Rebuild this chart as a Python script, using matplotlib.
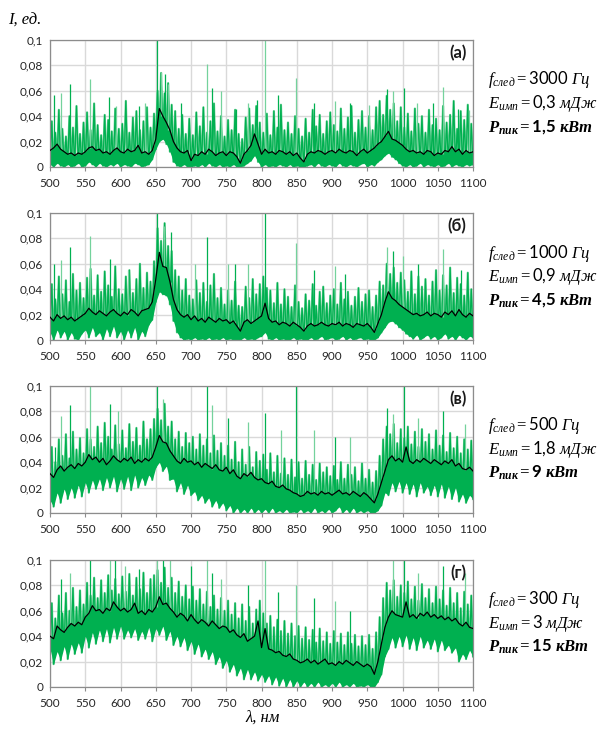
import numpy as np
import matplotlib.pyplot as plt

plt.rcParams['mathtext.fontset'] = 'custom'
plt.rcParams['mathtext.rm'] = 'Liberation Serif'
plt.rcParams['mathtext.it'] = 'Liberation Serif:italic'
plt.rcParams['mathtext.bf'] = 'Lato:bold'
plt.rcParams['mathtext.sf'] = 'Lato'
plt.rcParams['mathtext.bfit'] = 'Liberation Serif:italic:bold'
plt.rcParams['font.family'] = ['Lato', 'Open Sans', 'DejaVu Sans']

# wavelength grids: black curve / green minima at 5 nm, green maxima between them
lam = np.arange(500, 1101, 5)
lam_hi = np.arange(502.5, 1100, 5)

yticks = [0, 0.02, 0.04, 0.06, 0.08, 0.1]
ytick_labels = ['0', '0,02', '0,04', '0,06', '0,08', '0,1']
xticks = list(range(500, 1101, 50))

panel_labels = ['(а)', '(б)', '(в)', '(г)']
f_sled = ['3000', '1000', '500', '300']
e_imp = ['0{,}3', '0{,}9', '1{,}8', '3']
p_pik = ['1{,}5', '4{,}5', '9', '15']

# panel (a)
black_a = [0.013, 0.015, 0.018, 0.014, 0.012, 0.010, 0.011, 0.009, 0.011, 0.010,
           0.012, 0.015, 0.016, 0.013, 0.014, 0.011, 0.012, 0.010, 0.013, 0.015,
           0.012, 0.011, 0.014, 0.012, 0.013, 0.017, 0.011, 0.012, 0.010, 0.013,
           0.022, 0.046, 0.040, 0.035, 0.029, 0.020, 0.015, 0.012, 0.011, 0.013,
           0.005, 0.010, 0.009, 0.012, 0.010, 0.014, 0.012, 0.009, 0.011, 0.012,
           0.009, 0.012, 0.011, 0.008, 0.003, 0.010, 0.013, 0.017, 0.026, 0.018,
           0.010, 0.014, 0.011, 0.012, 0.010, 0.013, 0.012, 0.010, 0.012, 0.009,
           0.011, 0.007, 0.004, 0.010, 0.012, 0.011, 0.013, 0.012, 0.010, 0.012,
           0.013, 0.011, 0.014, 0.012, 0.011, 0.013, 0.012, 0.009, 0.012, 0.014,
           0.011, 0.013, 0.015, 0.018, 0.020, 0.024, 0.028, 0.022, 0.021, 0.019,
           0.017, 0.014, 0.012, 0.013, 0.011, 0.012, 0.010, 0.013, 0.012, 0.009,
           0.011, 0.010, 0.013, 0.012, 0.016, 0.012, 0.014, 0.010, 0.013, 0.011,
           0.012]
lo_a = [0.002, 0.000, 0.003, 0.001, 0.000, 0.002, 0.000, 0.001, 0.003, 0.000,
        0.001, 0.004, 0.002, 0.000, 0.003, 0.001, 0.000, 0.002, 0.001, 0.003,
        0.000, 0.002, 0.001, 0.000, 0.003, 0.002, 0.000, 0.001, 0.002, 0.006,
        0.014, 0.020, 0.022, 0.018, 0.012, 0.004, 0.001, 0.000, 0.002, 0.000,
        0.000, 0.001, 0.000, 0.002, 0.000, 0.003, 0.001, 0.000, 0.002, 0.000,
        0.001, 0.000, 0.002, 0.000, 0.000, 0.001, 0.003, 0.005, 0.009, 0.004,
        0.000, 0.002, 0.000, 0.001, 0.000, 0.002, 0.001, 0.000, 0.002, 0.000,
        0.001, 0.000, 0.000, 0.001, 0.002, 0.000, 0.003, 0.001, 0.000, 0.002,
        0.001, 0.000, 0.003, 0.001, 0.000, 0.002, 0.001, 0.000, 0.002, 0.003,
        0.000, 0.002, 0.001, 0.004, 0.006, 0.009, 0.011, 0.008, 0.006, 0.003,
        0.001, 0.000, 0.002, 0.000, 0.001, 0.003, 0.000, 0.002, 0.001, 0.000,
        0.002, 0.000, 0.001, 0.003, 0.000, 0.002, 0.001, 0.000, 0.002, 0.001,
        0.002]
hi_a = [0.036, 0.027, 0.045, 0.030, 0.024, 0.040, 0.031, 0.048, 0.026, 0.035,
        0.043, 0.029, 0.050, 0.033, 0.025, 0.041, 0.037, 0.028, 0.046, 0.030,
        0.034, 0.052, 0.027, 0.039, 0.044, 0.029, 0.036, 0.047, 0.031, 0.042,
        0.060, 0.074, 0.058, 0.066, 0.049, 0.044, 0.030, 0.041, 0.026, 0.038,
        0.025, 0.043, 0.032, 0.047, 0.027, 0.036, 0.050, 0.028, 0.040, 0.024,
        0.037, 0.029, 0.045, 0.026, 0.022, 0.039, 0.046, 0.033, 0.048, 0.035,
        0.027, 0.042, 0.025, 0.044, 0.031, 0.049, 0.029, 0.035, 0.026, 0.040,
        0.030, 0.024, 0.038, 0.027, 0.045, 0.032, 0.041, 0.026, 0.036, 0.043,
        0.033, 0.028, 0.046, 0.030, 0.039, 0.048, 0.027, 0.037, 0.044, 0.031,
        0.040, 0.029, 0.047, 0.052, 0.041, 0.056, 0.045, 0.050, 0.036, 0.047,
        0.031, 0.042, 0.028, 0.046, 0.034, 0.040, 0.027, 0.045, 0.033, 0.038,
        0.029, 0.048, 0.035, 0.041, 0.052, 0.030, 0.044, 0.037, 0.049, 0.034]
spike_x_a = [506, 515, 529, 557, 584, 594, 626, 634, 652, 658, 663, 668, 686, 722, 730,
             743, 764, 781, 793, 805, 824, 849, 875, 904, 925, 953, 978, 986, 1002,
             1020, 1043, 1057, 1079, 1094]
spike_y_a = [0.057, 0.058, 0.065, 0.069, 0.055, 0.048, 0.048, 0.050, 0.100, 0.075, 0.073,
             0.065, 0.050, 0.081, 0.062, 0.060, 0.046, 0.050, 0.053, 0.100, 0.057, 0.070,
             0.050, 0.052, 0.050, 0.049, 0.061, 0.060, 0.062, 0.050, 0.050, 0.063, 0.046,
             0.045]

# panel (б)
black_b = [0.018, 0.015, 0.020, 0.017, 0.019, 0.016, 0.018, 0.015, 0.017, 0.019,
           0.021, 0.025, 0.022, 0.020, 0.023, 0.021, 0.019, 0.022, 0.024, 0.021,
           0.019, 0.022, 0.020, 0.024, 0.022, 0.019, 0.023, 0.024, 0.025, 0.030,
           0.048, 0.069, 0.058, 0.057, 0.046, 0.032, 0.024, 0.020, 0.018, 0.020,
           0.016, 0.019, 0.015, 0.017, 0.014, 0.018, 0.016, 0.014, 0.017, 0.015,
           0.016, 0.013, 0.015, 0.011, 0.007, 0.014, 0.016, 0.013, 0.015, 0.017,
           0.019, 0.029, 0.017, 0.014, 0.015, 0.012, 0.014, 0.013, 0.011, 0.014,
           0.012, 0.010, 0.007, 0.011, 0.013, 0.011, 0.012, 0.014, 0.012, 0.011,
           0.013, 0.012, 0.014, 0.011, 0.013, 0.012, 0.010, 0.013, 0.012, 0.011,
           0.013, 0.010, 0.006, 0.013, 0.020, 0.030, 0.038, 0.033, 0.031, 0.028,
           0.026, 0.024, 0.022, 0.020, 0.021, 0.019, 0.020, 0.022, 0.019, 0.021,
           0.020, 0.018, 0.022, 0.020, 0.023, 0.019, 0.024, 0.020, 0.018, 0.021,
           0.019]
lo_b = [0.006, 0.000, 0.008, 0.002, 0.007, 0.000, 0.006, 0.001, 0.000, 0.005,
        0.008, 0.002, 0.010, 0.003, 0.006, 0.000, 0.009, 0.003, 0.011, 0.002,
        0.007, 0.000, 0.008, 0.002, 0.010, 0.000, 0.007, 0.003, 0.012, 0.016,
        0.030, 0.038, 0.036, 0.035, 0.028, 0.015, 0.006, 0.002, 0.000, 0.001,
        0.000, 0.002, 0.000, 0.001, 0.000, 0.002, 0.000, 0.001, 0.000, 0.002,
        0.000, 0.001, 0.000, 0.000, 0.000, 0.002, 0.000, 0.001, 0.000, 0.002,
        0.003, 0.006, 0.001, 0.000, 0.002, 0.000, 0.001, 0.000, 0.000, 0.002,
        0.000, 0.001, 0.000, 0.000, 0.002, 0.000, 0.001, 0.003, 0.000, 0.001,
        0.002, 0.000, 0.001, 0.003, 0.000, 0.002, 0.000, 0.001, 0.002, 0.000,
        0.001, 0.000, 0.000, 0.002, 0.006, 0.010, 0.014, 0.015, 0.013, 0.010,
        0.008, 0.005, 0.003, 0.001, 0.004, 0.000, 0.002, 0.004, 0.001, 0.003,
        0.000, 0.002, 0.005, 0.001, 0.003, 0.000, 0.004, 0.002, 0.000, 0.003,
        0.002]
hi_b = [0.044, 0.032, 0.050, 0.036, 0.047, 0.030, 0.052, 0.039, 0.045, 0.033,
        0.049, 0.056, 0.035, 0.051, 0.038, 0.054, 0.043, 0.034, 0.058, 0.040,
        0.036, 0.050, 0.055, 0.037, 0.048, 0.060, 0.041, 0.053, 0.046, 0.062,
        0.088, 0.078, 0.092, 0.074, 0.070, 0.055, 0.050, 0.039, 0.048, 0.035,
        0.032, 0.047, 0.037, 0.045, 0.030, 0.043, 0.052, 0.033, 0.041, 0.028,
        0.039, 0.031, 0.046, 0.027, 0.026, 0.042, 0.033, 0.048, 0.036, 0.044,
        0.050, 0.041, 0.039, 0.029, 0.045, 0.028, 0.040, 0.034, 0.026, 0.043,
        0.030, 0.025, 0.036, 0.031, 0.044, 0.027, 0.038, 0.042, 0.029, 0.035,
        0.040, 0.028, 0.045, 0.032, 0.038, 0.027, 0.034, 0.041, 0.030, 0.036,
        0.039, 0.026, 0.035, 0.046, 0.043, 0.060, 0.052, 0.057, 0.045, 0.053,
        0.047, 0.038, 0.054, 0.036, 0.050, 0.042, 0.048, 0.035, 0.046, 0.055,
        0.039, 0.051, 0.043, 0.057, 0.037, 0.049, 0.044, 0.035, 0.053, 0.040]
spike_x_b = [506, 515, 529, 557, 585, 611, 652, 662, 672, 705, 722, 752, 762, 781, 805,
             849, 875, 904, 918, 978, 986, 1001, 1022, 1057, 1083]
spike_y_b = [0.060, 0.063, 0.073, 0.082, 0.064, 0.055, 0.100, 0.090, 0.085, 0.060, 0.081,
             0.060, 0.060, 0.060, 0.100, 0.076, 0.055, 0.058, 0.052, 0.073, 0.070, 0.066,
             0.060, 0.072, 0.055]

# panel (в)
black_v = [0.031, 0.028, 0.034, 0.037, 0.033, 0.036, 0.038, 0.035, 0.039, 0.037,
           0.040, 0.046, 0.042, 0.044, 0.040, 0.043, 0.038, 0.041, 0.045, 0.042,
           0.040, 0.043, 0.041, 0.044, 0.039, 0.042, 0.040, 0.043, 0.041, 0.044,
           0.052, 0.061, 0.056, 0.055, 0.049, 0.045, 0.041, 0.039, 0.043, 0.040,
           0.041, 0.038, 0.040, 0.036, 0.039, 0.037, 0.035, 0.038, 0.034, 0.033,
           0.036, 0.031, 0.034, 0.029, 0.027, 0.031, 0.029, 0.032, 0.028, 0.026,
           0.027, 0.024, 0.023, 0.025, 0.021, 0.020, 0.022, 0.019, 0.018, 0.016,
           0.015, 0.013, 0.014, 0.017, 0.015, 0.016, 0.014, 0.017, 0.015, 0.016,
           0.014, 0.016, 0.018, 0.015, 0.016, 0.014, 0.017, 0.015, 0.013, 0.016,
           0.014, 0.011, 0.008, 0.015, 0.024, 0.033, 0.042, 0.045, 0.041, 0.043,
           0.040, 0.052, 0.041, 0.039, 0.042, 0.040, 0.043, 0.041, 0.039, 0.042,
           0.040, 0.038, 0.041, 0.039, 0.042, 0.037, 0.039, 0.035, 0.034, 0.036,
           0.033]
lo_v = [0.010, 0.005, 0.016, 0.008, 0.019, 0.011, 0.020, 0.012, 0.022, 0.013,
        0.024, 0.016, 0.026, 0.019, 0.027, 0.018, 0.028, 0.020, 0.029, 0.017,
        0.027, 0.019, 0.029, 0.018, 0.030, 0.020, 0.028, 0.022, 0.030, 0.026,
        0.036, 0.040, 0.033, 0.037, 0.026, 0.027, 0.017, 0.024, 0.015, 0.022,
        0.014, 0.017, 0.010, 0.014, 0.008, 0.012, 0.005, 0.010, 0.004, 0.008,
        0.002, 0.006, 0.000, 0.004, 0.000, 0.003, 0.000, 0.004, 0.000, 0.003,
        0.000, 0.003, 0.000, 0.004, 0.000, 0.002, 0.000, 0.003, 0.000, 0.001,
        0.000, 0.003, 0.000, 0.002, 0.000, 0.004, 0.000, 0.002, 0.000, 0.003,
        0.000, 0.002, 0.005, 0.000, 0.003, 0.000, 0.004, 0.000, 0.002, 0.000,
        0.002, 0.000, 0.000, 0.002, 0.006, 0.016, 0.014, 0.024, 0.017, 0.025,
        0.016, 0.024, 0.015, 0.023, 0.013, 0.024, 0.016, 0.021, 0.014, 0.022,
        0.013, 0.023, 0.012, 0.021, 0.011, 0.020, 0.009, 0.015, 0.008, 0.014,
        0.011]
hi_v = [0.052, 0.040, 0.058, 0.045, 0.062, 0.043, 0.064, 0.050, 0.059, 0.047,
        0.066, 0.058, 0.052, 0.068, 0.055, 0.071, 0.060, 0.050, 0.069, 0.054,
        0.065, 0.051, 0.070, 0.056, 0.067, 0.053, 0.072, 0.058, 0.066, 0.074,
        0.082, 0.073, 0.086, 0.068, 0.072, 0.058, 0.064, 0.052, 0.063, 0.055,
        0.060, 0.050, 0.062, 0.053, 0.058, 0.047, 0.061, 0.049, 0.055, 0.045,
        0.053, 0.042, 0.056, 0.040, 0.050, 0.038, 0.052, 0.036, 0.048, 0.041,
        0.046, 0.034, 0.047, 0.032, 0.045, 0.031, 0.043, 0.030, 0.042, 0.028,
        0.040, 0.027, 0.041, 0.030, 0.038, 0.026, 0.039, 0.032, 0.036, 0.029,
        0.037, 0.026, 0.040, 0.027, 0.038, 0.030, 0.036, 0.025, 0.039, 0.027,
        0.034, 0.024, 0.033, 0.045, 0.058, 0.068, 0.062, 0.070, 0.055, 0.066,
        0.059, 0.068, 0.054, 0.064, 0.052, 0.066, 0.056, 0.062, 0.050, 0.065,
        0.053, 0.061, 0.048, 0.063, 0.051, 0.060, 0.047, 0.058, 0.050, 0.057]
spike_x_v = [507, 515, 529, 557, 585, 596, 652, 660, 722, 730, 752, 781, 805, 828, 849,
             875, 904, 925, 978, 986, 1002, 1022, 1057, 1088]
spike_y_v = [0.052, 0.076, 0.085, 0.100, 0.086, 0.080, 0.100, 0.090, 0.100, 0.085, 0.075,
             0.072, 0.079, 0.065, 0.100, 0.065, 0.060, 0.060, 0.083, 0.078, 0.100, 0.075,
             0.080, 0.070]

# panel (г)
black_g = [0.040, 0.038, 0.048, 0.045, 0.043, 0.047, 0.050, 0.048, 0.051, 0.049,
           0.055, 0.058, 0.064, 0.060, 0.061, 0.058, 0.062, 0.060, 0.067, 0.063,
           0.060, 0.062, 0.059, 0.061, 0.066, 0.058, 0.060, 0.057, 0.061, 0.059,
           0.063, 0.071, 0.065, 0.066, 0.062, 0.059, 0.055, 0.058, 0.056, 0.052,
           0.057, 0.053, 0.050, 0.053, 0.051, 0.048, 0.052, 0.049, 0.046, 0.048,
           0.047, 0.043, 0.045, 0.041, 0.039, 0.042, 0.036, 0.038, 0.040, 0.052,
           0.031, 0.046, 0.030, 0.029, 0.027, 0.028, 0.025, 0.024, 0.026, 0.022,
           0.021, 0.019, 0.020, 0.022, 0.019, 0.021, 0.018, 0.020, 0.022, 0.018,
           0.019, 0.017, 0.020, 0.018, 0.021, 0.019, 0.017, 0.020, 0.018, 0.016,
           0.018, 0.016, 0.010, 0.020, 0.034, 0.047, 0.055, 0.060, 0.057, 0.056,
           0.055, 0.067, 0.055, 0.057, 0.054, 0.058, 0.056, 0.059, 0.055, 0.057,
           0.054, 0.056, 0.053, 0.055, 0.052, 0.054, 0.050, 0.048, 0.051, 0.047,
           0.046]
lo_g = [0.030, 0.018, 0.028, 0.021, 0.032, 0.022, 0.034, 0.026, 0.035, 0.027,
        0.040, 0.031, 0.043, 0.034, 0.045, 0.036, 0.046, 0.035, 0.047, 0.038,
        0.048, 0.038, 0.045, 0.039, 0.046, 0.037, 0.044, 0.038, 0.047, 0.036,
        0.046, 0.041, 0.048, 0.037, 0.044, 0.033, 0.040, 0.032, 0.039, 0.029,
        0.036, 0.026, 0.034, 0.024, 0.030, 0.022, 0.028, 0.018, 0.024, 0.015,
        0.021, 0.012, 0.018, 0.009, 0.015, 0.006, 0.014, 0.006, 0.012, 0.005,
        0.010, 0.004, 0.009, 0.002, 0.008, 0.001, 0.007, 0.000, 0.006, 0.000,
        0.005, 0.000, 0.004, 0.000, 0.003, 0.000, 0.004, 0.000, 0.002, 0.000,
        0.003, 0.000, 0.004, 0.000, 0.002, 0.000, 0.003, 0.000, 0.001, 0.000,
        0.002, 0.000, 0.000, 0.004, 0.010, 0.024, 0.030, 0.039, 0.031, 0.040,
        0.032, 0.041, 0.030, 0.039, 0.029, 0.040, 0.031, 0.037, 0.030, 0.038,
        0.028, 0.037, 0.029, 0.033, 0.027, 0.031, 0.020, 0.026, 0.022, 0.029,
        0.024]
hi_g = [0.066, 0.054, 0.072, 0.058, 0.074, 0.060, 0.078, 0.063, 0.076, 0.065,
        0.082, 0.072, 0.086, 0.070, 0.084, 0.074, 0.088, 0.076, 0.085, 0.073,
        0.087, 0.075, 0.089, 0.072, 0.086, 0.077, 0.090, 0.074, 0.085, 0.088,
        0.092, 0.082, 0.094, 0.078, 0.086, 0.074, 0.083, 0.071, 0.080, 0.069,
        0.079, 0.068, 0.077, 0.065, 0.075, 0.063, 0.072, 0.061, 0.070, 0.060,
        0.068, 0.057, 0.066, 0.054, 0.065, 0.052, 0.063, 0.050, 0.061, 0.068,
        0.058, 0.050, 0.056, 0.047, 0.053, 0.044, 0.052, 0.042, 0.050, 0.040,
        0.048, 0.038, 0.047, 0.037, 0.045, 0.035, 0.046, 0.036, 0.043, 0.034,
        0.044, 0.035, 0.042, 0.033, 0.043, 0.034, 0.041, 0.032, 0.040, 0.033,
        0.041, 0.030, 0.043, 0.055, 0.070, 0.082, 0.076, 0.084, 0.071, 0.080,
        0.074, 0.083, 0.069, 0.079, 0.068, 0.081, 0.070, 0.077, 0.066, 0.079,
        0.069, 0.076, 0.064, 0.078, 0.066, 0.074, 0.062, 0.075, 0.065, 0.072]
spike_x_g = [515, 529, 557, 585, 592, 606, 626, 652, 660, 670, 700, 722, 730, 743, 781,
             805, 824, 849, 875, 904, 925, 986, 1002, 1022, 1057, 1088]
spike_y_g = [0.085, 0.090, 0.100, 0.100, 0.100, 0.095, 0.093, 0.100, 0.100, 0.100, 0.095,
             0.100, 0.090, 0.085, 0.080, 0.100, 0.075, 0.080, 0.070, 0.068, 0.060, 0.100,
             0.100, 0.090, 0.095, 0.090]

panels = [
    (black_a, lo_a, hi_a, spike_x_a, spike_y_a),
    (black_b, lo_b, hi_b, spike_x_b, spike_y_b),
    (black_v, lo_v, hi_v, spike_x_v, spike_y_v),
    (black_g, lo_g, hi_g, spike_x_g, spike_y_g),
]

fig = plt.figure(figsize=(6.03, 7.32), dpi=100)
bottoms = [0.7719, 0.5355, 0.2992, 0.0615]
green = '#00B050'
light = '#74D29C'

for i, (blk, lo, hi, sx, sy) in enumerate(panels):
    ax = fig.add_axes([0.083, bottoms[i], 0.7015, 0.1735])

    # green noise: zigzag between read minima and maxima
    gx = np.empty(len(lam) + len(lam_hi))
    gy = np.empty_like(gx)
    gx[0::2] = lam
    gx[1::2] = lam_hi
    gy[0::2] = lo
    gy[1::2] = hi
    ax.plot(gx, gy, color=light, lw=1.6, zorder=2)
    ax.plot(gx, gy, color=green, lw=0.9, zorder=2)

    # dense core of the noise band
    ax.fill_between(lam, lo, blk, color=green, lw=0, zorder=2)

    idx = [int(round((x - 500) / 5)) for x in sx]
    base = [blk[k] for k in idx]
    cols = [green if k % 2 == 0 else light for k in range(len(sx))]
    ax.vlines(sx, base, sy, colors=cols, lw=0.9, zorder=2)

    ax.plot(lam, blk, color='black', lw=0.9, zorder=3)

    ax.set_xlim(500, 1100)
    ax.set_ylim(0, 0.1)
    ax.set_xticks(xticks)
    ax.set_yticks(yticks)
    ax.set_yticklabels(ytick_labels)
    ax.grid(True, color='#d9d9d9', lw=1.0, zorder=0)
    ax.set_axisbelow(True)
    for s in ax.spines.values():
        s.set_color('#8c8c8c')
        s.set_linewidth(0.9)
    ax.tick_params(axis='x', direction='out', length=3, color='#8c8c8c',
                   labelsize=8.5, pad=5, labelcolor='#262626')
    ax.tick_params(axis='y', length=0, labelsize=8.5, pad=5, labelcolor='#262626')

    ax.text(0.985, 0.895, panel_labels[i], transform=ax.transAxes, ha='right',
            va='center', fontsize=12, fontweight='bold', color='#1a1a1a')

    ax.text(1.035, 0.685, r'$f_{след} = \mathsf{' + f_sled[i] + r'}\ Гц$',
            transform=ax.transAxes, ha='left', va='center', fontsize=12)
    ax.text(1.035, 0.50, r'$E_{имп} = \mathsf{' + e_imp[i] + r'}\ мДж$',
            transform=ax.transAxes, ha='left', va='center', fontsize=12)
    ax.text(1.035, 0.315, r'$\mathbfit{P}_{\mathbfit{пик}} \mathbfit{=} \mathbf{'
            + p_pik[i] + r'}\ \mathbfit{кВт}$',
            transform=ax.transAxes, ha='left', va='center', fontsize=12)

fig.text(0.013, 0.972, 'I, ед.', family='Liberation Serif', style='italic',
         fontsize=12, ha='left', va='center')
fig.text(0.435, 0.019, 'λ, нм', family='Liberation Serif', style='italic',
         fontsize=12, ha='center', va='center')

plt.savefig('out.png', dpi=100)
